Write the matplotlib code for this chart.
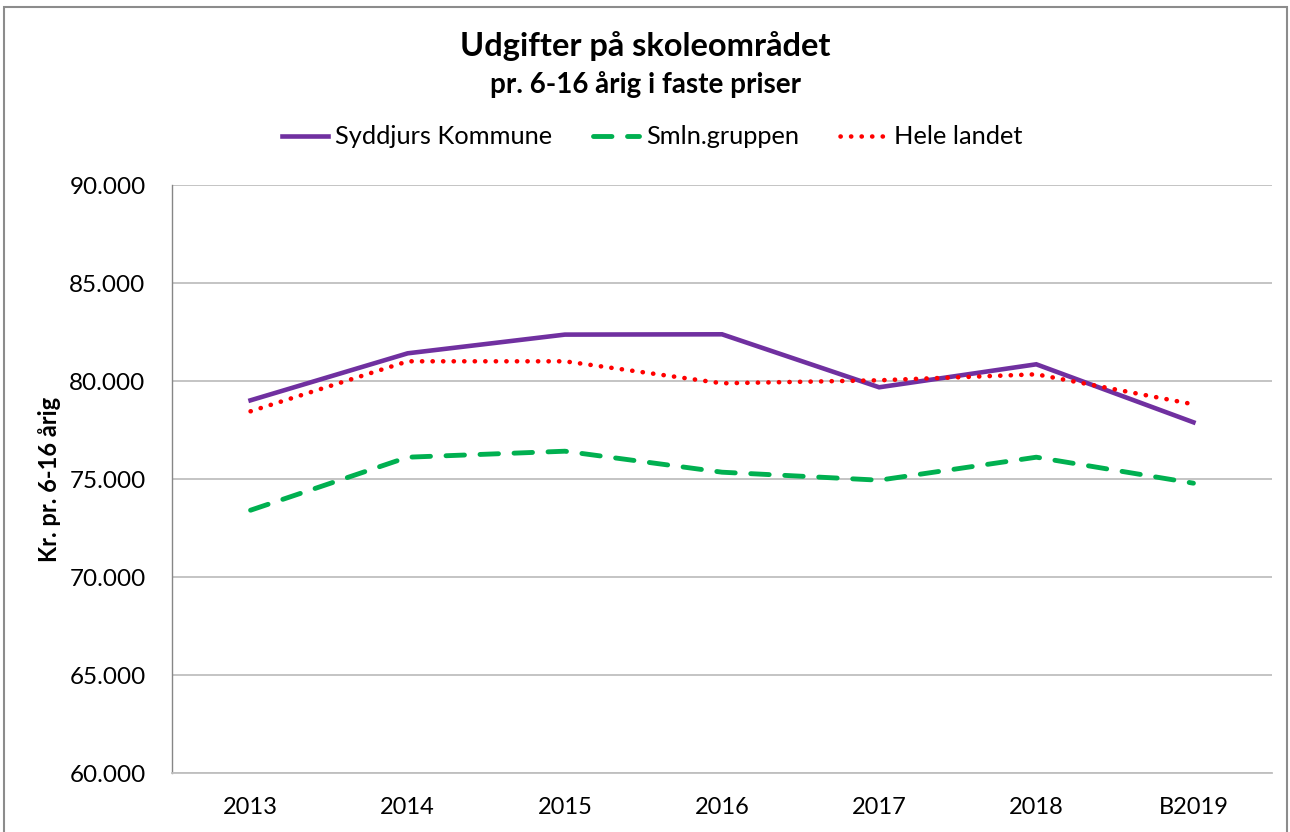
import matplotlib
matplotlib.use("Agg")
import matplotlib.pyplot as plt
from matplotlib.patches import Rectangle
from matplotlib.ticker import FuncFormatter

plt.rcParams['font.family'] = ['Lato', 'DejaVu Sans']

categories = ["2013", "2014", "2015", "2016", "2017", "2018", "B2019"]
syddjurs = [79015, 81413, 82367, 82383, 79679, 80852, 77893]
smln = [73408, 76112, 76418, 75347, 74939, 76112, 74786]
hele = [78454, 81005, 81005, 79883, 80036, 80342, 78811]
series_names = ["Syddjurs Kommune", "Smln.gruppen", "Hele landet"]
yticks = [60000, 65000, 70000, 75000, 80000, 85000, 90000]

fig = plt.figure(figsize=(12.9, 8.32), dpi=100)
ax = fig.add_axes([172/1290, 1-773/832, 1100/1290, (773-185)/832])

x = list(range(len(categories)))
ax.plot(x, syddjurs, color="#7030A0", lw=3.3, solid_joinstyle='miter', label=series_names[0], zorder=3)
ax.plot(x, smln, color="#00B050", lw=3.5, linestyle=(0, (3.8, 3.2)), dash_capstyle='round',
        label=series_names[1], zorder=3)
ax.plot(x, hele, color="#FF0000", lw=3.3, linestyle=(0, (0.05, 2.25)), dash_capstyle='round',
        label=series_names[2], zorder=3)

ax.set_xlim(-0.5, len(categories) - 0.5)
ax.set_ylim(60000, 90000)
ax.set_yticks(yticks)
ax.yaxis.set_major_formatter(FuncFormatter(lambda v, p: f"{int(v):,}".replace(",", ".")))
ax.set_xticks(x)
ax.set_xticklabels(categories)
ax.grid(axis='y', color="#BFBFBF", lw=1.3)
ax.set_axisbelow(True)
for s in ["top", "right"]:
    ax.spines[s].set_visible(False)
ax.spines["left"].set_color("#868686")
ax.spines["left"].set_linewidth(1.0)
ax.spines["bottom"].set_color("#BFBFBF")
ax.spines["bottom"].set_linewidth(1.3)
ax.tick_params(axis='both', length=0, colors="black")
ax.tick_params(axis='y', pad=19, labelsize=17.5)
ax.tick_params(axis='x', pad=17, labelsize=17)

ax.set_ylabel("Kr. pr. 6-16 årig", fontsize=17, fontweight='bold', labelpad=6)

fig.text(0.5, 1-46/832, "Udgifter på skoleområdet", ha='center', va='center',
         fontsize=23.5, fontweight='bold')
fig.text(0.5, 1-84/832, "pr. 6-16 årig i faste priser", ha='center', va='center',
         fontsize=20, fontweight='bold')

leg = fig.legend(loc='center', bbox_to_anchor=(652/1290, 1-137/832), ncol=3, frameon=False,
                 fontsize=18.3, handlelength=1.8, handletextpad=0.3, columnspacing=1.6)

fig.patches.append(Rectangle((4/1290, -0.05), (1287-4)/1290, 1.05 - 7/832,
                             transform=fig.transFigure, fill=False, edgecolor="#8C8C8C", lw=1.5))

fig.savefig("out.png", dpi=100)
